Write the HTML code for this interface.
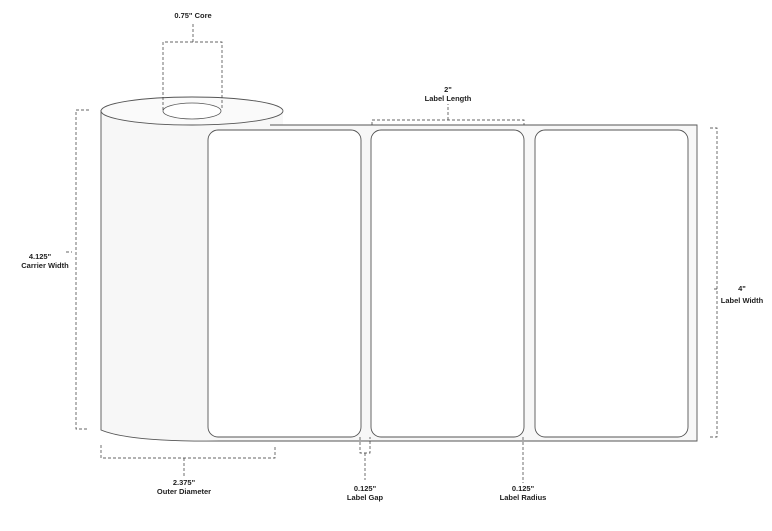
<!DOCTYPE html>
<html><head><style>body{margin:0;background:#fff}svg{display:block}text{font-family:"Liberation Sans",sans-serif;font-weight:bold;font-size:7.5px;fill:#222;text-anchor:middle}</style></head><body>
<svg width="772" height="531" viewBox="0 0 772 531">
<path d="M101,110 L101,430 Q130,442 220,441 L697,441 L697,125 L283,125 L283,110 Z" fill="#f7f7f7" stroke="none"/>
<path d="M101,110 L101,430 Q130,442 220,441 L697,441 L697,125 L270,125" fill="none" stroke="#555" stroke-width="0.9"/>
<ellipse cx="192" cy="111" rx="91" ry="14" fill="#fafafa" stroke="#555" stroke-width="0.9"/>
<ellipse cx="192" cy="111" rx="29" ry="8" fill="#fff" stroke="#555" stroke-width="0.8"/>
<g fill="#fff" stroke="#555" stroke-width="0.9">
<rect x="208" y="130" width="153" height="307" rx="10"/>
<rect x="371" y="130" width="153" height="307" rx="10"/>
<rect x="535" y="130" width="153" height="307" rx="10"/>
</g>
<g fill="none" stroke="#333" stroke-width="0.7" stroke-dasharray="3,2">
<path d="M163,110 V42 H222 V110 M193,42 V22"/>
<path d="M89,110 H76 V429 H89"/>
<path d="M372,125 V120 H524 V125 M448,120 V104"/>
<path d="M710,128 H717 V437 H710 M717,289 H712"/>
<path d="M101,445 V458 H275 V445 M184,458 V477"/>
<path d="M360,437 V453 H370 V437 M365,453 V480"/>
<path d="M523,437 V483"/>
<path d="M66,252 H72"/>
</g>
<text x="193" y="18">0.75" Core</text>
<text x="448" y="92">2"</text><text x="448" y="101">Label Length</text>
<text x="40" y="259">4.125"</text><text x="45" y="268">Carrier Width</text>
<text x="742" y="291">4"</text><text x="742" y="303">Label Width</text>
<text x="184" y="485">2.375"</text><text x="184" y="494">Outer Diameter</text>
<text x="365" y="491">0.125"</text><text x="365" y="500">Label Gap</text>
<text x="523" y="491">0.125"</text><text x="523" y="500">Label Radius</text>
</svg>
</body></html>
